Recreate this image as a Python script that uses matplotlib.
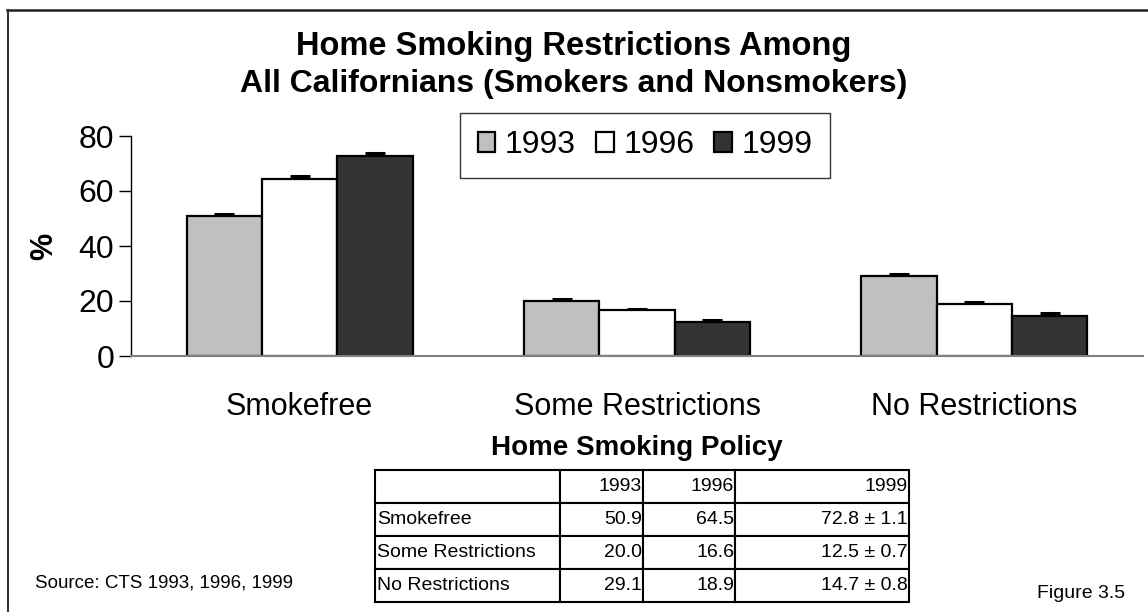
import matplotlib.pyplot as plt
import numpy as np
from matplotlib.lines import Line2D

plt.rcParams['font.family'] = ['Liberation Sans', 'DejaVu Sans']

categories = ['Smokefree', 'Some Restrictions', 'No Restrictions']
years = ['1993', '1996', '1999']
v1993 = [50.9, 20.0, 29.1]
v1996 = [64.5, 16.6, 18.9]
v1999 = [72.8, 12.5, 14.7]
e1993 = [0.8, 0.6, 0.8]
e1996 = [0.8, 0.6, 0.7]
e1999 = [1.1, 0.7, 0.8]
colors = ['#c0c0c0', '#ffffff', '#333333']

table_rows = ['Smokefree', 'Some Restrictions', 'No Restrictions']
table_1993 = ['50.9', '20.0', '29.1']
table_1996 = ['64.5', '16.6', '18.9']
table_1999 = ['72.8 \u00b1 1.1', '12.5 \u00b1 0.7', '14.7 \u00b1 0.8']

fig = plt.figure(figsize=(11.48, 6.12), dpi=100)

# border (top and left only visible)
fig.add_artist(Line2D([7/1148, 1.0], [1-9.5/612, 1-9.5/612], color='#222222', lw=1.8, transform=fig.transFigure))
fig.add_artist(Line2D([7.5/1148, 7.5/1148], [0, 1-9.5/612], color='#333333', lw=1.5, transform=fig.transFigure))

fig.text(0.5, 1-46/612, 'Home Smoking Restrictions Among', ha='center', va='center',
         fontsize=23.5, fontweight='bold')
fig.text(0.5, 1-84/612, 'All Californians (Smokers and Nonsmokers)', ha='center', va='center',
         fontsize=23, fontweight='bold')

ax = fig.add_axes([131/1148, 1-356/612, (1143-131)/1148, 220/612])
x = np.arange(len(categories))
w = 0.223
series = [(v1993, e1993), (v1996, e1996), (v1999, e1999)]
for i, (vals, errs) in enumerate(series):
    ax.errorbar(x + (i-1)*w, vals, yerr=errs, fmt='none', ecolor='black',
                elinewidth=1.2, capsize=7.5, capthick=2.2, zorder=1)
    ax.bar(x + (i-1)*w, vals, w, color=colors[i], edgecolor='black', linewidth=1.6,
           label=years[i], zorder=2)

ax.set_xlim(-0.5, 2.5)
ax.set_ylim(0, 80)
ax.set_yticks([0, 20, 40, 60, 80])
ax.tick_params(axis='y', labelsize=23, length=9, width=1, direction='out', pad=3)
ax.set_xticks(x)
ax.set_xticklabels(categories, fontsize=22)
ax.tick_params(axis='x', length=0, pad=26)
ax.spines['top'].set_visible(False)
ax.spines['right'].set_visible(False)
ax.spines['bottom'].set_color('#808080')
ax.spines['bottom'].set_linewidth(1.5)
ax.spines['left'].set_linewidth(1)
ax.set_ylabel('%', fontsize=22, fontweight='bold', labelpad=14)
ax.set_xlabel('Home Smoking Policy', fontsize=20, fontweight='bold', labelpad=9)

leg = ax.legend(loc='upper left', bbox_to_anchor=(329/1012, 1.105), ncol=3, fontsize=23,
                frameon=True, fancybox=False, edgecolor='black', handlelength=0.56,
                handleheight=0.56, handletextpad=0.3, columnspacing=0.62,
                borderpad=0.55, borderaxespad=0)
leg.get_frame().set_linewidth(1)

# data table
tax = fig.add_axes([375/1148, 1-602/612, (909-375)/1148, 132/612])
tax.axis('off')
cell_text = [['', '1993', '1996', '1999']]
for r in range(len(table_rows)):
    cell_text.append([table_rows[r], table_1993[r], table_1996[r], table_1999[r]])
cw = np.array([185, 83, 92, 174], dtype=float)
tbl = tax.table(cellText=cell_text, colWidths=list(cw/cw.sum()), bbox=[0, 0, 1, 1])
tbl.auto_set_font_size(False)
for (r, c), cell in tbl.get_celld().items():
    cell.set_linewidth(1.5)
    cell.get_text().set_fontsize(14)
    if c == 0:
        cell.get_text().set_ha('left')
        cell._loc = 'left'
    else:
        cell.get_text().set_ha('right')
        cell._loc = 'right'
    cell.PAD = 0.01

fig.text(35/1148, 1-583/612, 'Source: CTS 1993, 1996, 1999', fontsize=13.5, va='center')
fig.text(1037/1148, 1-594/612, 'Figure 3.5', fontsize=14, va='center')

fig.savefig('out.png', dpi=100)
